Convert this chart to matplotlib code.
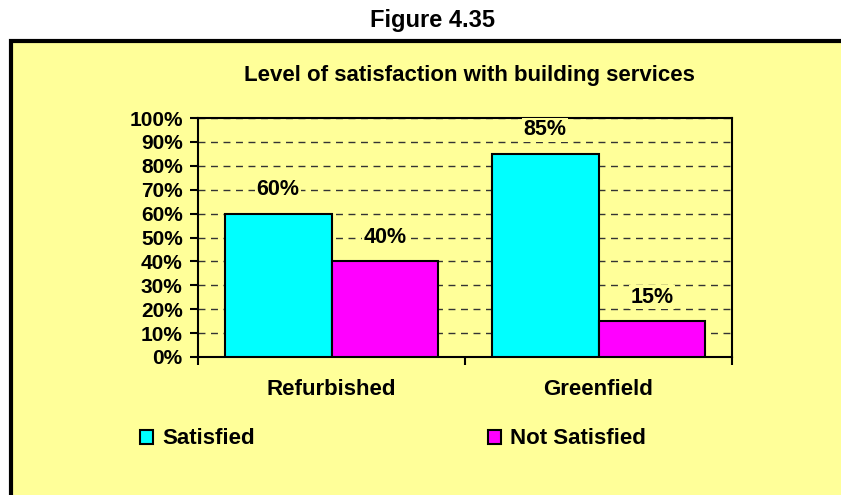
import matplotlib.pyplot as plt
import numpy as np
from matplotlib.patches import Rectangle
from matplotlib.ticker import PercentFormatter

categories = ["Refurbished", "Greenfield"]
series_names = ["Satisfied", "Not Satisfied"]
satisfied = [60, 85]
not_satisfied = [40, 15]
yticks = list(range(0, 101, 10))

BG = "#FFFF99"
colors = ["#00FFFF", "#FF00FF"]

plt.rcParams["font.family"] = ["Liberation Sans", "DejaVu Sans"]
plt.rcParams["font.weight"] = "bold"

fig = plt.figure(figsize=(8.41, 4.95), dpi=100)
fig.patch.set_facecolor("white")

# yellow chart panel with thick frame (cut off at right and bottom)
frame = Rectangle((11 / 841, -0.05), 1.0, (495 - 41) / 495 + 0.05,
                  transform=fig.transFigure, facecolor=BG, edgecolor="black",
                  linewidth=3, zorder=-1)
fig.patches.append(frame)

fig.text(433 / 841, 1 - 21 / 495, "Figure 4.35", ha="center", va="center",
         fontsize=17, fontweight="bold")
fig.text(469 / 841, 1 - 75 / 495, "Level of satisfaction with building services",
         ha="center", va="center", fontsize=16, fontweight="bold")

ax = fig.add_axes([198 / 841, 138 / 495, 534 / 841, 239 / 495])
ax.set_zorder(1)
ax.patch.set_alpha(0)

x = np.arange(len(categories)) + 0.5
w = 0.4
for i, (vals, name) in enumerate([(satisfied, series_names[0]), (not_satisfied, series_names[1])]):
    pos = x - w / 2 + i * w
    ax.bar(pos, vals, w, color=colors[i], edgecolor="black", linewidth=1.5,
           label=name, zorder=3)
    for p, v in zip(pos, vals):
        ax.text(p, v + 10, f"{v}%", ha="center", va="center",
                fontsize=15.5, fontweight="bold", zorder=4,
                bbox=dict(facecolor=BG, edgecolor="none", pad=1))

ax.set_xlim(0, 2)
ax.set_ylim(0, 100)
ax.set_yticks(yticks)
ax.yaxis.set_major_formatter(PercentFormatter(decimals=0))
ax.set_xticks([0, 1, 2])
ax.set_xticklabels([])
ax.set_xticks(x, minor=True)
ax.set_xticklabels(categories, minor=True)
ax.tick_params(axis="x", which="minor", length=0, pad=16, labelsize=16)
ax.tick_params(axis="x", which="major", length=6, width=1.5, direction="out")
ax.tick_params(axis="y", length=6, width=1.5, direction="out", labelsize=15, pad=5)
for lbl in ax.get_xticklabels(minor=True) + ax.get_yticklabels():
    lbl.set_fontweight("bold")

ax.grid(axis="y", linestyle=(0, (5, 4)), color="#333333", linewidth=1, zorder=1)
for s in ax.spines.values():
    s.set_linewidth(1.5)
    s.set_color("black")

handles, labels = ax.get_legend_handles_labels()
legend_x = [140 / 841, 488 / 841]
for h, lab, lx in zip(handles, labels, legend_x):
    leg = fig.legend([h], [lab], loc="center left", bbox_to_anchor=(lx, 1 - 439 / 495),
                     frameon=False, handlelength=0.6, handleheight=0.6,
                     handletextpad=0.4, borderpad=0, borderaxespad=0,
                     prop={"weight": "bold", "size": 16})

fig.savefig("out.png", dpi=100, facecolor="white")
